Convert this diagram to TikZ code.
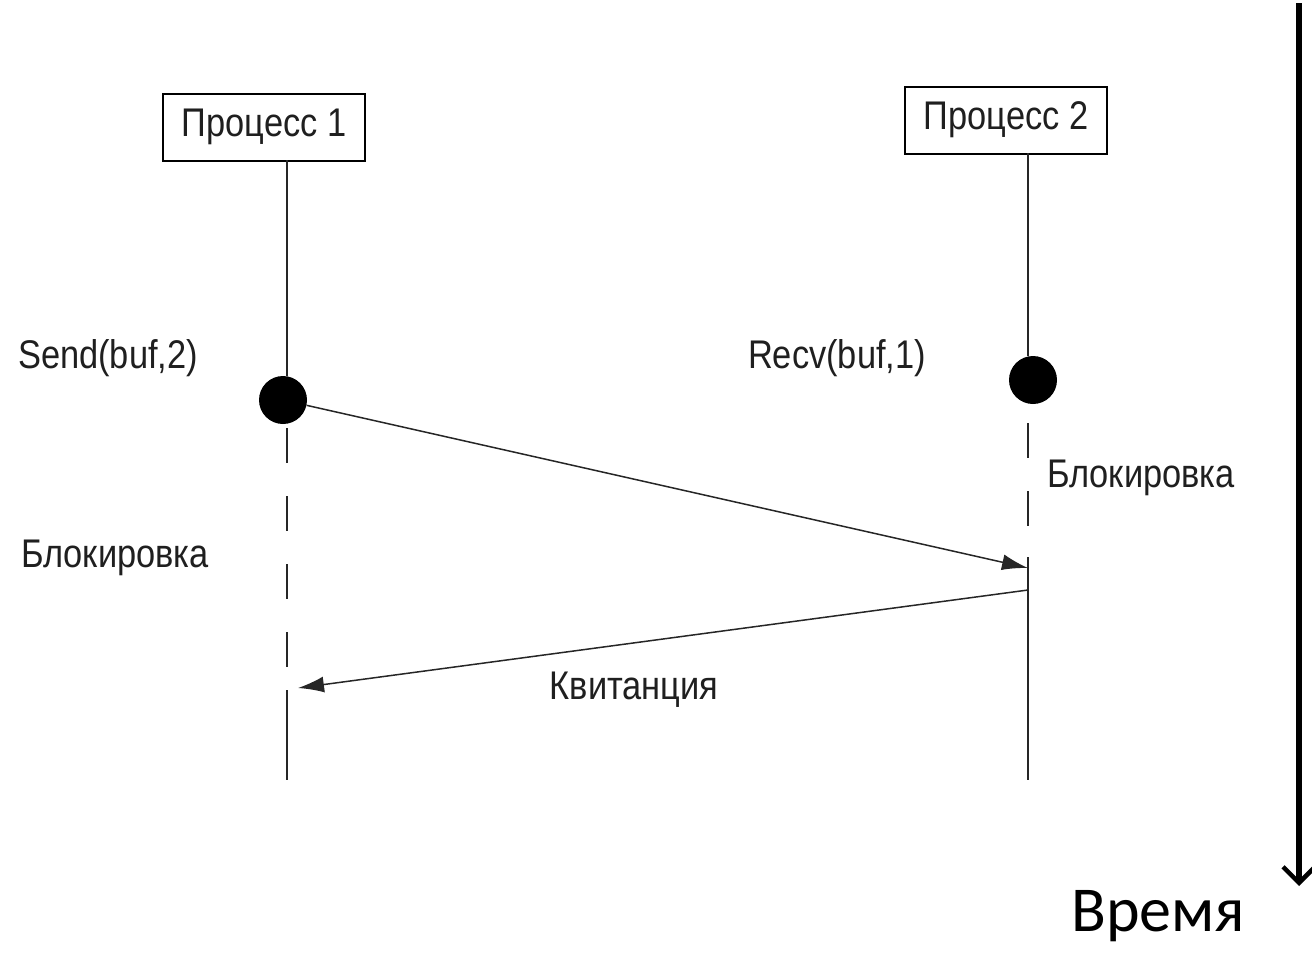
\documentclass[tikz,border=0pt]{standalone}
\usepackage{fontspec}
\setmainfont{Liberation Sans}
\newfontfamily\narrowfont[FakeStretch=0.86]{Liberation Sans}
\newfontfamily\timefont{Carlito}
\usetikzlibrary{arrows.meta}
\begin{document}
\begin{tikzpicture}[x=1pt,y=-1pt,
  lbl/.style={font=\narrowfont\fontsize{40}{44}\selectfont, text=black!88, inner sep=0pt},
  procbox/.style={draw, line width=2pt, font=\narrowfont\fontsize{40}{44}\selectfont, text=black!88, minimum width=202pt, minimum height=67pt, inner sep=0pt},
  life/.style={line width=2pt, black!85},
  dashlife/.style={line width=2pt, black!85, dash pattern=on 35pt off 33pt},
  dot/.style={circle, fill=black, minimum size=48pt, inner sep=0pt},
  msg/.style={line width=1.5pt, black!85, -{Latex[length=26pt,width=16pt]}},
  timearrow/.style={line width=6pt, -{Straight Barb[length=16pt,width=32pt,line width=4.5pt]}}
]
\useasboundingbox (0,0) rectangle (1312,959);

% process boxes
\node[procbox] (p1) at (264,127) {Процесс 1};
\node[procbox] (p2) at (1006,120) {Процесс 2};

% event dots
\node[dot] (d1) at (283,400) {};
\node[dot] (d2) at (1033,380) {};

% lifeline coordinates
\coordinate (l1top) at (287,160);
\coordinate (l1a) at (287,376);
\coordinate (l1b) at (287,428);
\coordinate (l1c) at (287,690);
\coordinate (l1end) at (287,780);
\coordinate (l2top) at (1028,153);
\coordinate (l2a) at (1028,356);
\coordinate (l2b) at (1028,423);
\coordinate (l2c) at (1028,557);
\coordinate (l2end) at (1028,780);
\coordinate (r1) at (1028,568);
\coordinate (s2) at (1028,590);
\coordinate (r2) at (298,688);

% lifelines
\draw[life] (l1top) -- (l1a);
\draw[dashlife] (l1b) -- (l1c);
\draw[life] (l1c) -- (l1end);
\draw[life] (l2top) -- (l2a);
\draw[dashlife] (l2b) -- (l2c);
\draw[life] (l2c) -- (l2end);

% messages
\draw[msg] (d1) -- (r1);
\draw[msg] (s2) -- (r2);

% labels
\node[lbl] (send) at (108,358) {Send(buf,2)};
\node[lbl] (recv) at (837,358) {Recv(buf,1)};
\node[lbl] (blk2) at (1141,478) {Блокировка};
\node[lbl] (blk1) at (115,558) {Блокировка};
\node[lbl] (kv) at (634,690) {Квитанция};

% time arrow
\coordinate (ttop) at (1299,3);
\coordinate (tbot) at (1299,886);
\draw[timearrow] (ttop) -- (tbot);
\node[font=\timefont\fontsize{64}{70}\selectfont, inner sep=0pt] (time) at (1158,916) {Время};
\end{tikzpicture}
\end{document}
